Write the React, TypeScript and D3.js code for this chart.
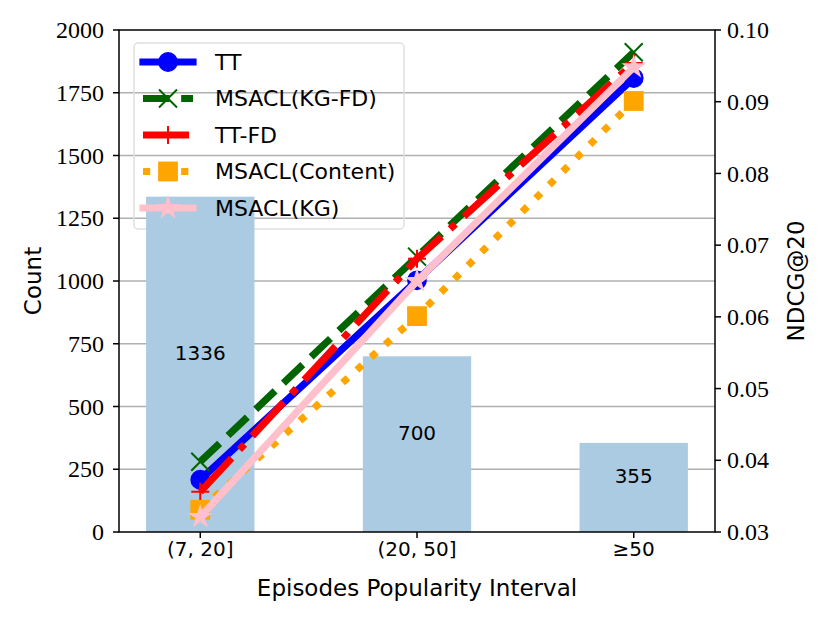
import React from 'react';
import * as d3 from 'd3';

// bar data (left axis)
const categories = ['(7, 20]', '(20, 50]', '≥50'];
const counts = [1336, 700, 355];
const countTicks = [0, 250, 500, 750, 1000, 1250, 1500, 1750, 2000];
const ndcgTicks = [0.03, 0.04, 0.05, 0.06, 0.07, 0.08, 0.09, 0.1];

// NDCG@20 lines (right axis)
const ttValues = [0.0373, 0.0651, 0.0933];
const kgFdValues = [0.0398, 0.0684, 0.0969];
const ttFdValues = [0.0356, 0.0681, 0.0954];
const contentValues = [0.0331, 0.0601, 0.0901];
const kgValues = [0.0321, 0.0650, 0.0948];

const W = 830;
const H = 623;
const left = 119;
const right = 715;
const top = 30;
const bottom = 532;

const LW = 7.2;
const MS = 18;

type Marker = 'circle' | 'x' | 'plus' | 'square' | 'star';

const series: { name: string; values: number[]; color: string; dash: string | null; marker: Marker }[] = [
  { name: 'TT', values: ttValues, color: '#0000ff', dash: null, marker: 'circle' },
  { name: 'MSACL(KG-FD)', values: kgFdValues, color: '#006400', dash: `${3.7 * LW},${1.6 * LW}`, marker: 'x' },
  { name: 'TT-FD', values: ttFdValues, color: '#ff0000', dash: `${6.4 * LW},${1.6 * LW},${LW},${1.6 * LW}`, marker: 'plus' },
  { name: 'MSACL(Content)', values: contentValues, color: '#ffa500', dash: `${LW},${1.65 * LW}`, marker: 'square' },
  { name: 'MSACL(KG)', values: kgValues, color: '#ffc0cb', dash: null, marker: 'star' },
];

const sans = 'DejaVu Sans';
const serif = 'Liberation Serif';

function starPath(r: number) {
  const inner = r * 0.381966;
  const pts: string[] = [];
  for (let i = 0; i < 10; i++) {
    const a = -Math.PI / 2 + (i * Math.PI) / 5;
    const rr = i % 2 === 0 ? r : inner;
    pts.push(`${(rr * Math.cos(a)).toFixed(2)},${(rr * Math.sin(a)).toFixed(2)}`);
  }
  return `M${pts.join('L')}Z`;
}

const MarkerGlyph: React.FC<{ type: Marker; cx: number; cy: number; color: string }> = ({ type, cx, cy, color }) => {
  const h = MS / 2;
  const t = `translate(${cx},${cy})`;
  if (type === 'circle') return <circle cx={cx} cy={cy} r={h} fill={color} stroke={color} strokeWidth={1.8} />;
  if (type === 'square')
    return <rect x={cx - h} y={cy - h} width={MS} height={MS} fill={color} stroke={color} strokeWidth={1.8} />;
  if (type === 'star') return <path transform={t} d={starPath(h + 1)} fill={color} stroke={color} strokeWidth={1.8} strokeLinejoin="miter" />;
  if (type === 'plus')
    return <path transform={t} d={`M${-h},0H${h}M0,${-h}V${h}`} stroke={color} strokeWidth={2} fill="none" />;
  return <path transform={t} d={`M${-h},${-h}L${h},${h}M${-h},${h}L${h},${-h}`} stroke={color} strokeWidth={2} fill="none" />;
};

export default function App() {
  const x = d3.scaleLinear().domain([-0.375, 2.375]).range([left, right]);
  const yL = d3.scaleLinear().domain([0, 2000]).range([bottom, top]);
  const yR = d3.scaleLinear().domain([0.03, 0.1]).range([bottom, top]);
  const barW = x(0.5) - x(0);

  const line = d3
    .line<number>()
    .x((_, i) => x(i))
    .y((d) => yR(d));

  // legend layout
  const lgX = 134;
  const lgY = 43;
  const rowY = (i: number) => 62 + i * 36.5;
  const hx0 = 143;
  const hx1 = 193;

  return (
    <svg width={W} height={H} style={{ position: 'absolute', left: 0, top: 0, background: '#fff' }}>
      {/* grid */}
      {countTicks.slice(1, -1).map((t) => (
        <line key={t} x1={left} x2={right} y1={yL(t)} y2={yL(t)} stroke="#b0b0b0" strokeWidth={1.5} />
      ))}

      {/* legend frame */}
      <rect x={lgX} y={lgY} width={270} height={186} rx={4} fill="none" stroke="#e0e0e0" strokeWidth={1.5} />

      {/* bars */}
      {counts.map((c, i) => (
        <g key={i}>
          <rect x={x(i) - barW / 2} y={yL(c)} width={barW} height={yL(0) - yL(c)} fill="#abcbe3" />
          <text x={x(i)} y={yL(c / 2) - 4} textAnchor="middle" fontFamily={sans} fontSize={20} fill="#000">
            {c}
          </text>
        </g>
      ))}

      {/* legend entries */}
      {series.map((s, i) => {
        const y = rowY(i);
        return (
          <g key={s.name}>
            <line
              x1={hx0}
              x2={hx1}
              y1={y}
              y2={y}
              stroke={s.color}
              strokeWidth={LW}
              strokeDasharray={s.dash ?? undefined}
              strokeLinecap={s.dash ? 'butt' : 'square'}
            />
            <MarkerGlyph type={s.marker} cx={(hx0 + hx1) / 2} cy={y} color={s.color} />
            <text x={215} y={y} dy="0.36em" fontFamily={sans} fontSize={22} fill="#000">
              {s.name}
            </text>
          </g>
        );
      })}

      {/* lines */}
      {series.map((s) => (
        <g key={s.name}>
          <path
            d={line(s.values) ?? ''}
            fill="none"
            stroke={s.color}
            strokeWidth={LW}
            strokeDasharray={s.dash ?? undefined}
            strokeLinecap={s.dash ? 'butt' : 'square'}
            strokeLinejoin="round"
          />
          {s.values.map((v, i) => (
            <MarkerGlyph key={i} type={s.marker} cx={x(i)} cy={yR(v)} color={s.color} />
          ))}
        </g>
      ))}

      {/* frame */}
      <rect x={left} y={top} width={right - left} height={bottom - top} fill="none" stroke="#000" strokeWidth={1.5} />

      {/* left axis */}
      {countTicks.map((t) => (
        <g key={t}>
          <line x1={left - 6} x2={left} y1={yL(t)} y2={yL(t)} stroke="#000" strokeWidth={1.5} />
          <text x={left - 15} y={yL(t)} dy="0.34em" textAnchor="end" fontFamily={serif} fontSize={24} fill="#000">
            {t}
          </text>
        </g>
      ))}
      <text
        transform={`translate(33,${(top + bottom) / 2}) rotate(-90)`}
        textAnchor="middle"
        dy="0.35em"
        fontFamily={sans}
        fontSize={23}
        fill="#000"
      >
        Count
      </text>

      {/* right axis */}
      {ndcgTicks.map((t) => (
        <g key={t}>
          <line x1={right} x2={right + 6} y1={yR(t)} y2={yR(t)} stroke="#000" strokeWidth={1.5} />
          <text x={right + 12} y={yR(t)} dy="0.34em" fontFamily={serif} fontSize={24} fill="#000">
            {t.toFixed(2)}
          </text>
        </g>
      ))}
      <text
        transform={`translate(796,${(top + bottom) / 2}) rotate(-90)`}
        textAnchor="middle"
        dy="0.35em"
        fontFamily={sans}
        fontSize={23}
        fill="#000"
      >
        NDCG@20
      </text>

      {/* bottom axis */}
      {categories.map((c, i) => (
        <g key={c}>
          <line x1={x(i)} x2={x(i)} y1={bottom} y2={bottom + 6} stroke="#000" strokeWidth={1.5} />
          <text x={x(i)} y={549} dy="0.36em" textAnchor="middle" fontFamily={sans} fontSize={20} fill="#000">
            {c}
          </text>
        </g>
      ))}
      <text x={(left + right) / 2} y={588} dy="0.36em" textAnchor="middle" fontFamily={sans} fontSize={23} fill="#000">
        Episodes Popularity Interval
      </text>
    </svg>
  );
}
